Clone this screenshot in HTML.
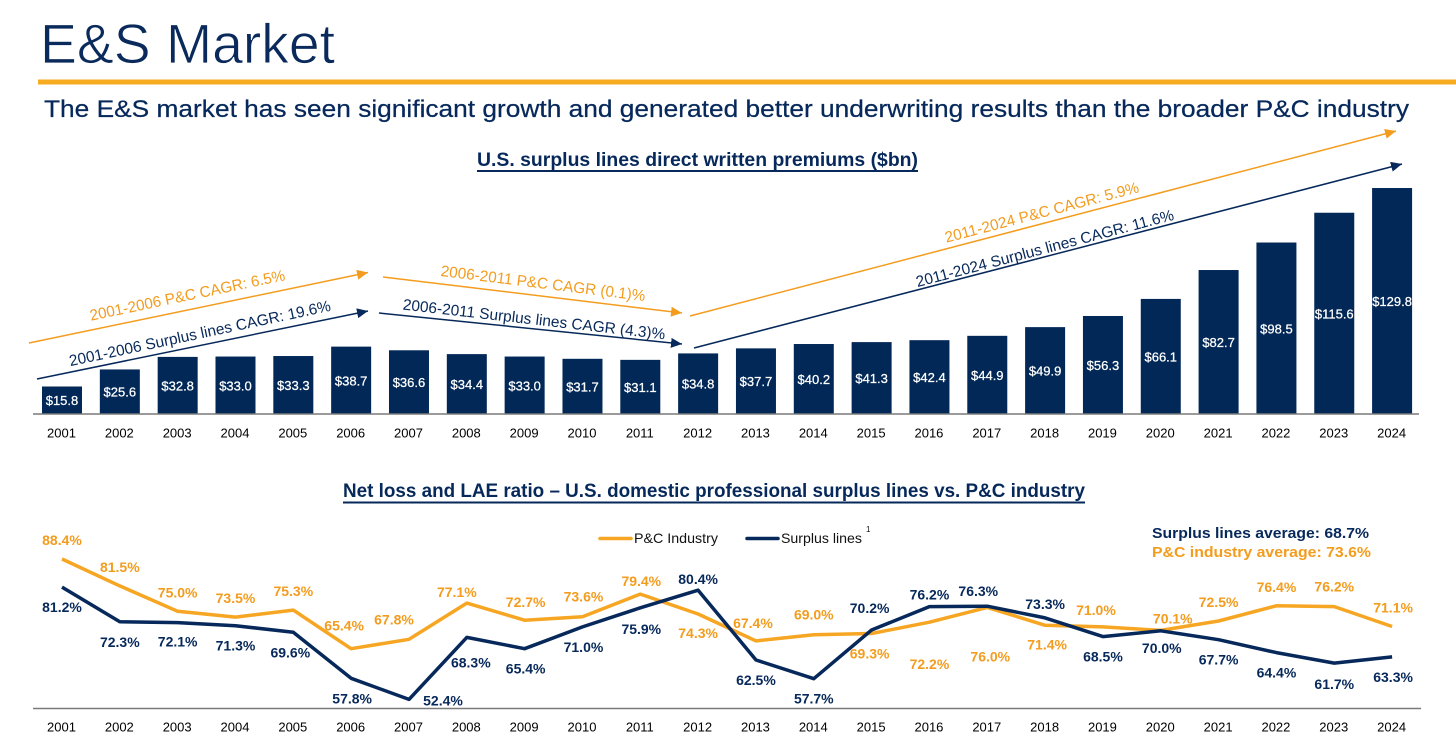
<!DOCTYPE html>
<html lang="en">
<head>
<meta charset="utf-8">
<title>E&amp;S Market</title>
<style>
html,body{margin:0;padding:0;background:#fff;width:1456px;height:751px;overflow:hidden}
svg{display:block}
text{font-family:"Liberation Sans",sans-serif}
</style>
</head>
<body>
<svg id="chart" xmlns="http://www.w3.org/2000/svg" width="1456" height="751" viewBox="0 0 1456 751">
  <defs>
    <marker id="head-orange" markerUnits="userSpaceOnUse" markerWidth="12" markerHeight="10" refX="11" refY="5" orient="auto"><path d="M0 0L11 5L0 10Z" fill="#f39c1e"/></marker>
    <marker id="head-navy" markerUnits="userSpaceOnUse" markerWidth="12" markerHeight="10" refX="11" refY="5" orient="auto"><path d="M0 0L11 5L0 10Z" fill="#06285a"/></marker>
  </defs>

  <text x="40" y="63" font-size="56" fill="#0a2a5c" stroke="#fff" stroke-width="0.8" textLength="295" lengthAdjust="spacingAndGlyphs">E&amp;S Market</text>
  <rect x="38" y="79.5" width="1418" height="5" fill="#f6ab20"/>
  <text x="44" y="117" font-size="24.5" fill="#06285a" stroke="#06285a" stroke-width="0.25" textLength="1365" lengthAdjust="spacingAndGlyphs">The E&amp;S market has seen significant growth and generated better underwriting results than the broader P&amp;C industry</text>

  <text x="477" y="166" font-size="19.5" font-weight="bold" fill="#06285a" textLength="441" lengthAdjust="spacingAndGlyphs">U.S. surplus lines direct written premiums ($bn)</text>
  <rect x="477" y="170" width="441" height="2" fill="#06285a"/>

  <g id="bars"></g>
  <line x1="33" x2="1419" y1="414" y2="414" stroke="#7a7a7a" stroke-width="1.5"/>
  <g id="barTicks"></g>

  <line x1="29" y1="343" x2="368" y2="272.5" stroke="#f39c1e" stroke-width="1.5" marker-end="url(#head-orange)"/>
  <line x1="37" y1="379" x2="368" y2="311" stroke="#06285a" stroke-width="1.5" marker-end="url(#head-navy)"/>
  <line x1="383" y1="277" x2="682" y2="313" stroke="#f39c1e" stroke-width="1.5" marker-end="url(#head-orange)"/>
  <line x1="379" y1="313" x2="682" y2="344" stroke="#06285a" stroke-width="1.5" marker-end="url(#head-navy)"/>
  <line x1="690" y1="316" x2="1396" y2="131" stroke="#f39c1e" stroke-width="1.5" marker-end="url(#head-orange)"/>
  <line x1="694" y1="348" x2="1402" y2="164" stroke="#06285a" stroke-width="1.5" marker-end="url(#head-navy)"/>

  <text transform="translate(187.5,296) rotate(-11.8)" text-anchor="middle" dominant-baseline="central" font-size="15.5" fill="#f39c1e" textLength="199" lengthAdjust="spacingAndGlyphs">2001-2006 P&amp;C CAGR: 6.5%</text>
  <text transform="translate(200,334) rotate(-12)" text-anchor="middle" dominant-baseline="central" font-size="15.5" fill="#06285a" textLength="267" lengthAdjust="spacingAndGlyphs">2001-2006 Surplus lines CAGR: 19.6%</text>
  <text transform="translate(543,284) rotate(7)" text-anchor="middle" dominant-baseline="central" font-size="15.5" fill="#f39c1e" textLength="206" lengthAdjust="spacingAndGlyphs">2006-2011 P&amp;C CAGR (0.1)%</text>
  <text transform="translate(534,320) rotate(6.5)" text-anchor="middle" dominant-baseline="central" font-size="15.5" fill="#06285a" textLength="264" lengthAdjust="spacingAndGlyphs">2006-2011 Surplus lines CAGR (4.3)%</text>
  <text transform="translate(1042,213) rotate(-14.7)" text-anchor="middle" dominant-baseline="central" font-size="15.5" fill="#f39c1e" textLength="200" lengthAdjust="spacingAndGlyphs">2011-2024 P&amp;C CAGR: 5.9%</text>
  <text transform="translate(1045,249) rotate(-14.7)" text-anchor="middle" dominant-baseline="central" font-size="15.5" fill="#06285a" textLength="266" lengthAdjust="spacingAndGlyphs">2011-2024 Surplus lines CAGR: 11.6%</text>

  <text x="343" y="497" font-size="19.5" font-weight="bold" fill="#06285a" textLength="742" lengthAdjust="spacingAndGlyphs">Net loss and LAE ratio – U.S. domestic professional surplus lines vs. P&amp;C industry</text>
  <rect x="343" y="501.5" width="742" height="2" fill="#06285a"/>

  <g>
    <line x1="600" x2="631" y1="538.5" y2="538.5" stroke="#f6a623" stroke-width="3.5" stroke-linecap="round"/>
    <text x="634" y="543" font-size="14" fill="#111" textLength="84" lengthAdjust="spacingAndGlyphs">P&amp;C Industry</text>
    <line x1="747" x2="778" y1="538.5" y2="538.5" stroke="#06285a" stroke-width="3.5" stroke-linecap="round"/>
    <text x="781" y="543" font-size="14" fill="#111" textLength="81" lengthAdjust="spacingAndGlyphs">Surplus lines</text>
    <text x="866" y="532" font-size="8" fill="#111">1</text>
  </g>

  <text x="1152" y="538" font-size="15" font-weight="bold" fill="#06285a" textLength="217" lengthAdjust="spacingAndGlyphs">Surplus lines average: 68.7%</text>
  <text x="1152" y="557" font-size="15" font-weight="bold" fill="#f39c1e" textLength="219" lengthAdjust="spacingAndGlyphs">P&amp;C industry average: 73.6%</text>

  <g id="lines"></g>
  <line x1="33" x2="1421" y1="708.5" y2="708.5" stroke="#7a7a7a" stroke-width="1.5"/>
  <g id="lineTicks"></g>
</svg>

<script>
var years = [2001,2002,2003,2004,2005,2006,2007,2008,2009,2010,2011,2012,2013,2014,2015,2016,2017,2018,2019,2020,2021,2022,2023,2024];
var premiums = [15.8,25.6,32.8,33.0,33.3,38.7,36.6,34.4,33.0,31.7,31.1,34.8,37.7,40.2,41.3,42.4,44.9,49.9,56.3,66.1,82.7,98.5,115.6,129.8];
var pcRatio = [88.4,81.5,75.0,73.5,75.3,65.4,67.8,77.1,72.7,73.6,79.4,74.3,67.4,69.0,69.3,72.2,76.0,71.4,71.0,70.1,72.5,76.4,76.2,71.1];
var surplusRatio = [81.2,72.3,72.1,71.3,69.6,57.8,52.4,68.3,65.4,71.0,75.9,80.4,62.5,57.7,70.2,76.2,76.3,73.3,68.5,70.0,67.7,64.4,61.7,63.3];

/* label nudges relative to each point */
var pcNudgeX = [0,0,0,0,0,-7,-15,-10,1,1,1,0,-3,0,-2,0,3,2,-7,12,0,0,0,1];
var pcNudgeY = [-19,-19,-19,-19,-19,-23,-20,-11,-18,-20,-13,19,-18,-20,20,42,49,19,-17,-12,-19,-19,-20,-19];
var surplusNudgeX = [0,0,0,0,-3,1,34,4,1,1,1,0,0,0,-2,0,-9,0,0,1,0,0,0,1];
var surplusNudgeY = [20,20,19,20,20,20,1,25,20,20,21,-11,20,20,-22,-12,-15,-14,20,17,20,20,21,20];

var NS = 'http://www.w3.org/2000/svg';
var NAVY = '#06285a', ORANGE = '#f39c1e', LINE_ORANGE = '#f6a623';

function xAt(i){ return 62 + i * 57.83; }
function barY(v){ return 414 - v * 1.741; }
function ratioY(v){ return 559 + (88.4 - v) * 3.9; }

function makeText(parent, x, y, str, size, fill, weight){
  var t = document.createElementNS(NS, 'text');
  t.setAttribute('x', x);
  t.setAttribute('y', y);
  t.setAttribute('text-anchor', 'middle');
  t.setAttribute('dominant-baseline', 'central');
  t.setAttribute('font-size', size);
  t.setAttribute('fill', fill);
  if (weight) t.setAttribute('font-weight', weight);
  t.textContent = str;
  parent.appendChild(t);
  return t;
}

var barsG = document.getElementById('bars');
var barTicks = document.getElementById('barTicks');
var lineTicks = document.getElementById('lineTicks');
var linesG = document.getElementById('lines');

years.forEach(function(year, i){
  var top = barY(premiums[i]);
  var r = document.createElementNS(NS, 'rect');
  r.setAttribute('x', xAt(i) - 20);
  r.setAttribute('y', top);
  r.setAttribute('width', 40);
  r.setAttribute('height', 414 - top);
  r.setAttribute('fill', '#022857');
  
  
  barsG.appendChild(r);

  var v = makeText(barsG, xAt(i), (top + 414) / 2 + 0.5, '$' + premiums[i].toFixed(1), 13, '#fff');
  v.setAttribute('stroke', '#fff');
  v.setAttribute('stroke-width', '0.25');
  
  

  var t1 = makeText(barTicks, xAt(i) - 0.5, 433, String(year), 13, '#000');
  
  

  var t2 = makeText(lineTicks, xAt(i) - 0.5, 727, String(year), 13, '#000');
  
  
});

function pointsFor(values){
  return values.map(function(v, i){ return xAt(i).toFixed(1) + ',' + ratioY(v).toFixed(1); }).join(' ');
}

var pcLine = document.createElementNS(NS, 'polyline');
pcLine.setAttribute('points', pointsFor(pcRatio));
pcLine.setAttribute('fill', 'none');
pcLine.setAttribute('stroke', LINE_ORANGE);
pcLine.setAttribute('stroke-width', '3.5');
pcLine.setAttribute('stroke-linejoin', 'round');


linesG.appendChild(pcLine);

var surplusLine = document.createElementNS(NS, 'polyline');
surplusLine.setAttribute('points', pointsFor(surplusRatio));
surplusLine.setAttribute('fill', 'none');
surplusLine.setAttribute('stroke', NAVY);
surplusLine.setAttribute('stroke-width', '3.5');
surplusLine.setAttribute('stroke-linejoin', 'round');


linesG.appendChild(surplusLine);

years.forEach(function(year, i){
  var a = makeText(linesG, xAt(i) + pcNudgeX[i], ratioY(pcRatio[i]) + pcNudgeY[i], pcRatio[i].toFixed(1) + '%', 14, ORANGE, 'bold');
  
  

  var b = makeText(linesG, xAt(i) + surplusNudgeX[i], ratioY(surplusRatio[i]) + surplusNudgeY[i], surplusRatio[i].toFixed(1) + '%', 14, NAVY, 'bold');
  
  
});
</script>
</body>
</html>
